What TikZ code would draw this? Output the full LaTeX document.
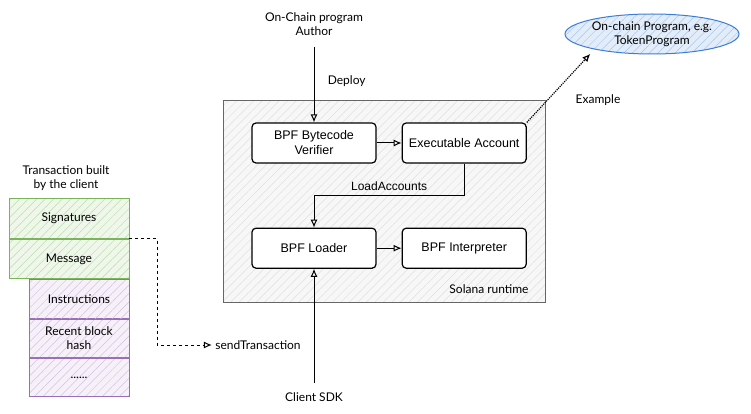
\documentclass[tikz,border=0pt]{standalone}
\usepackage{fontspec}
\setmainfont{Liberation Sans}
\newfontfamily\handfont{Lato}
\usetikzlibrary{positioning,shapes.geometric,arrows.meta,patterns.meta,calc}
\definecolor{txgreen}{HTML}{7AB55C}
\definecolor{txgreenfill}{HTML}{EEF7EA}
\definecolor{txgreenhatch}{HTML}{BEDDB0}
\definecolor{msgpurple}{HTML}{9B6FB5}
\definecolor{msgpurplefill}{HTML}{F6F0F9}
\definecolor{msgpurplehatch}{HTML}{D5C3E0}
\definecolor{progblue}{HTML}{3B7DD8}
\definecolor{progbluefill}{HTML}{E2EDF9}
\definecolor{progbluehatch}{HTML}{A8C6EC}

\begin{document}
\begin{tikzpicture}[x=1pt,y=-1pt,>={Latex[length=8pt,width=7pt,open]},
  block/.style={draw,line width=1.2pt,rounded corners=4pt,fill=white,minimum width=124pt,minimum height=40pt,inner sep=2pt,align=center,font=\fontsize{12.5}{15}\selectfont},
  hand/.style={align=center,font=\handfont\fontsize{12}{14}\selectfont},
  hatched/.style 2 args={preaction={fill=#1},pattern={Lines[angle=45,distance=6pt,line width=0.5pt]},pattern color=#2},
  runtime/.style={draw=black!60,line width=1pt,hatched={black!3}{black!12}},
  txpart/.style={hand,draw=txgreen,line width=0.9pt,hatched={txgreenfill}{txgreenhatch},minimum width=120pt,minimum height=39.5pt},
  msgpart/.style={hand,draw=msgpurple,line width=0.9pt,hatched={msgpurplefill}{msgpurplehatch},minimum width=100pt,minimum height=38.5pt},
  program/.style={hand,ellipse,draw=progblue,line width=1pt,hatched={progbluefill}{progbluehatch},minimum width=174pt,minimum height=40pt,inner sep=1pt},
  dotarrow/.style={->,densely dotted,line width=1.2pt},
  dasharrow/.style={->,dashed,line width=1pt}]
  \useasboundingbox (0,0) rectangle (751,414);
  \draw[runtime] (223,101) rectangle (545,302);
  \node[hand] (rtlabel) at (489,289) {Solana runtime};
  \node[block] (verifier) at (314,143) {BPF Bytecode\\Verifier};
  \node[block] (exec) [right=25pt of verifier] {Executable Account};
  \node[block] (loader) [below=64pt of verifier] {BPF Loader};
  \node[block] (interp) [right=25pt of loader] {BPF Interpreter};
  \node[hand] (author) at (314,24) {On-Chain program\\Author};
  \node[hand] (sdk) at (314,397) {Client SDK};
  \node[program] (onchain) at (652,34) {On-chain Program, e.g.\\TokenProgram};
  \node[hand] (example) at (598,100) {Example};
  \node[hand] (tx) at (66,178) {Transaction built\\by the client};
  \node[txpart] (sig) at (69,218.5) {Signatures};
  \node[txpart] (msg) [below=0pt of sig] {Message};
  \node[msgpart] (instr) [anchor=north east] at (msg.south east) {Instructions};
  \node[msgpart] (hash) [below=0pt of instr] {Recent block\\hash};
  \node[msgpart] (more) [below=0pt of hash] {......};
  \node[hand] (send) at (258,345) {sendTransaction};
  \draw[->,line width=1pt,shorten <=8pt] (author) -- node[hand,right=10pt] {Deploy} (verifier);
  \draw[->,line width=1pt] (verifier) -- (exec);
  \draw[->,line width=1pt] (exec.south) |- ($(exec.south)!.5!(loader.north)$) coordinate (la) -| (loader.north);
  \node[above=1pt,font=\fontsize{12}{14}\selectfont] (loadacc) at (la) {LoadAccounts};
  \draw[->,line width=1pt] (loader) -- (interp);
  \draw[->,line width=1pt,shorten <=6pt] (sdk) -- (loader);
  \draw[dotarrow,shorten >=6pt] (exec.north east) -- (onchain.195);
  \draw[dasharrow] (msg.north east) -- ++(28,0) |- (send);
\end{tikzpicture}
\end{document}
